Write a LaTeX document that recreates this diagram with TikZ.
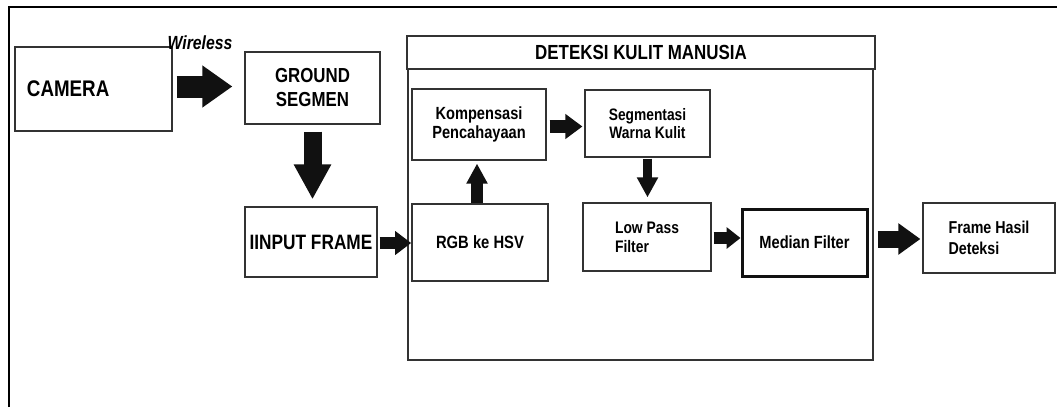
\documentclass[tikz,border=0pt]{standalone}
\usepackage{fontspec}
\setmainfont{Liberation Sans}[FakeStretch=0.83]
\usetikzlibrary{arrows.meta,calc}
\definecolor{ln}{HTML}{333333}
\definecolor{ar}{HTML}{111111}
\begin{document}
\begin{tikzpicture}[x=1pt,y=-1pt,
  box/.style={draw=ln, line width=1.2pt, fill=white, inner sep=0pt, align=center},
  fat/.style n args={3}{draw=ar, line width=#1pt, -{Triangle[length=#3pt, width=#2pt]}}
]
\useasboundingbox (0,0) rectangle (1059,407);
% outer frame
\draw[line width=1.3pt] (9,407) -- (9,7) -- (1057,7);
% container
\node[box, minimum width=465pt, minimum height=291pt] (kulit) at (640.5,214.5) {};
\node[box, line width=2pt, minimum width=468pt, minimum height=33pt,
      font=\fontsize{20.4}{22}\selectfont\bfseries] (hdr) at (641,52.5) {DETEKSI KULIT MANUSIA};
% boxes
\node[box, text width=133pt, inner xsep=12pt, align=left, minimum height=84pt,
      font=\fontsize{22.6}{24}\selectfont\bfseries] (cam) at (93.5,89) {CAMERA};
\node[font=\fontsize{19}{20}\selectfont\bfseries\itshape, inner sep=0pt] (wl) at (200,43) {Wireless};
\node[box, minimum width=135pt, minimum height=72pt,
      font=\fontsize{20.3}{24}\selectfont\bfseries] (gs) at (312.5,88) {GROUND\\SEGMEN};
\node[box, minimum width=132pt, minimum height=70pt,
      font=\fontsize{20.8}{22}\selectfont\bfseries] (if) at (311,242) {IINPUT FRAME};
\node[box, minimum width=134pt, minimum height=71pt,
      font=\fontsize{17.6}{18.5}\selectfont\bfseries] (komp) at (479,124.5) {Kompensasi\\Pencahayaan};
\node[box, minimum width=125pt, minimum height=67pt,
      font=\fontsize{16.6}{18.5}\selectfont\bfseries] (seg) at (647.5,123.5) {Segmentasi\\Warna Kulit};
\node[box, line width=1.7pt, minimum width=136pt, minimum height=77pt,
      font=\fontsize{17.8}{20}\selectfont\bfseries] (rgb) at (480,242.5) {RGB ke HSV};
\node[box, align=left, minimum width=128pt, minimum height=68pt,
      font=\fontsize{16.7}{19}\selectfont\bfseries] (lpf) at (647,237) {Low Pass\\Filter};
\node[box, line width=3pt, draw=ar, minimum width=125pt, minimum height=67pt,
      font=\fontsize{17.6}{20}\selectfont\bfseries] (med) at (804.5,242.5) {Median Filter};
\node[box, align=left, minimum width=132pt, minimum height=70pt,
      font=\fontsize{17.2}{21}\selectfont\bfseries] (fr) at (989,238) {Frame Hasil\\Deteksi};
% fat arrows
\draw[fat={22}{40}{30}] ($(cam.east)+(4,-2.5)$) -- ($(gs.west)+(-12,-1.5)$);
\draw[fat={18}{35}{35}] ($(gs.south)+(0,7)$) -- ($(gs.south |- if.north)+(0,-7)$);
\draw[fat={12}{23}{16}] ($(if.east)+(2,1)$) -- ($(if.east -| rgb.west)+(0,1)$);
\draw[fat={12}{20}{20}] ($(rgb.north)+(-3,0)$) -- ($(rgb.north |- komp.south)+(-3,3)$);
\draw[fat={13}{24}{17}] ($(komp.east)+(3,2)$) -- ($(komp.east -| seg.west)+(-2,2)$);
\draw[fat={9}{20}{20}] ($(seg.south)+(0,1)$) -- ($(seg.south |- lpf.north)+(0,-5)$);
\draw[fat={12}{21}{14}] ($(lpf.east)+(2,1)$) -- ($(lpf.east -| med.west)+(0,1)$);
\draw[fat={17}{30}{22}] ($(med.east)+(9,-3.5)$) -- ($(med.east -| fr.west)+(-2,-3.5)$);
\end{tikzpicture}
\end{document}
